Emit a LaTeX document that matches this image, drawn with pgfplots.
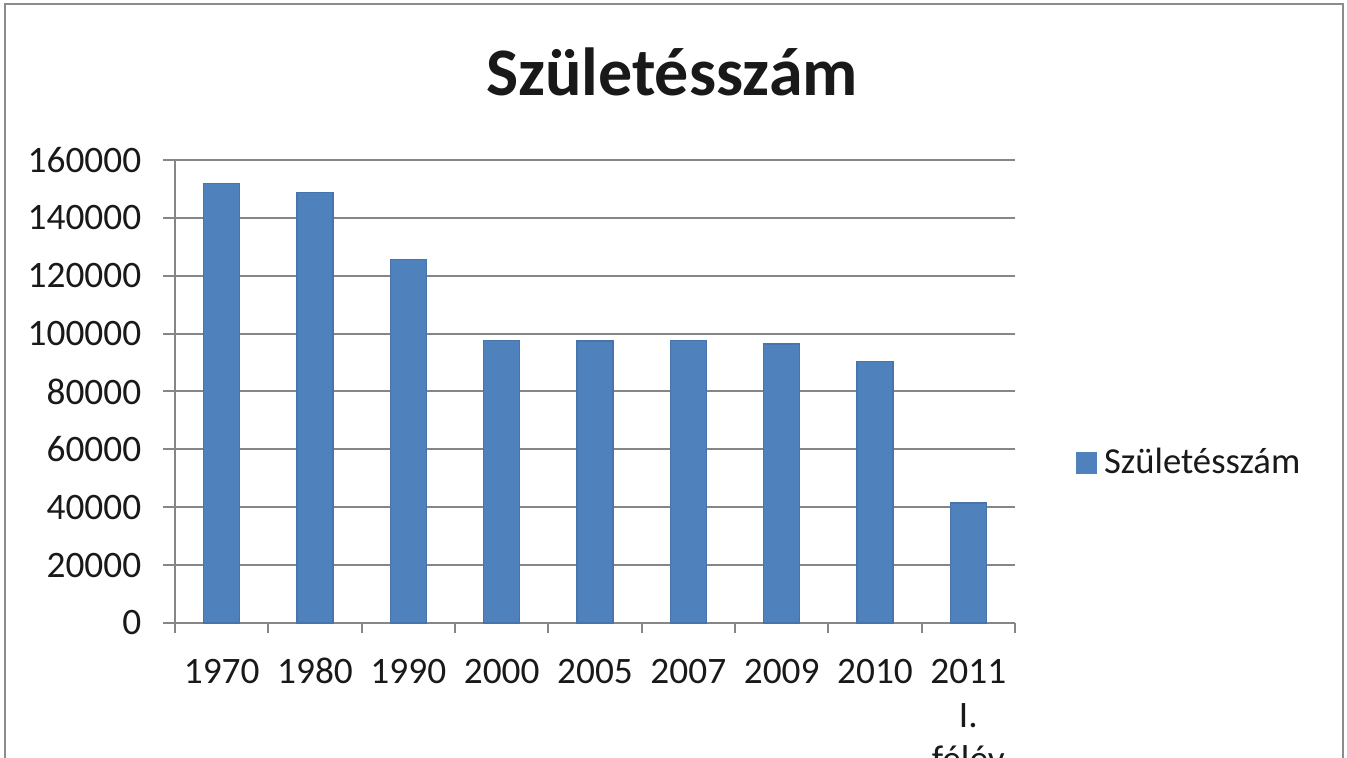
\documentclass[border=0pt]{standalone}
\usepackage{fontspec}
\setmainfont{Carlito}
\usepackage{pgfplots}
\pgfplotsset{compat=1.18}
\definecolor{barblue}{RGB}{79,129,189}
\definecolor{gridgray}{RGB}{134,134,134}
\definecolor{framegray}{RGB}{140,140,140}
\definecolor{txt}{RGB}{25,25,25}

\begin{document}
\begin{tikzpicture}[x=0.3pt,y=0.3pt]
% picture in pixel units, y upward (758 px tall)
\clip (0,0) rectangle (1347,758);
\fill[white] (0,0) rectangle (1347,758);
\draw[framegray, line width=0.6pt] (4.5,-50) -- (4.5,753.5) -- (1342.5,753.5) -- (1342.5,-50);
\node[txt, font=\bfseries\fontsize{20.4}{24}\selectfont] at (672,686) {Születésszám};
\begin{axis}[
  at={(52.5pt,40.5pt)}, anchor=south west,
  scale only axis, width=252pt, height=138.9pt,
  xmin=-0.5, xmax=8.5, ymin=0, ymax=160000,
  enlargelimits=false,
  axis x line*=bottom, axis y line*=left,
  axis line style={gridgray, line width=0.6pt, -},
  xtick={0,...,8},
  xticklabels={\strut1970,\strut1980,\strut1990,\strut2000,\strut2005,\strut2007,
    \strut2009,\strut2010,{\strut2011\\I.\\félév}},
  major x tick style={draw=none},
  minor xtick={-0.5,0.5,...,8.5},
  minor tick length=3pt,
  major tick length=3.6pt,
  tick align=outside,
  tick style={gridgray, line width=0.6pt},
  ytick={0,20000,...,160000},
  ymajorgrids, grid style={gridgray, line width=0.6pt},
  scaled y ticks=false,
  /pgf/number format/.cd, fixed, 1000 sep={}, assume math mode=true,
  /pgfplots/.cd,
  xticklabel style={txt, align=center, yshift=-1.8pt, font=\fontsize{11.2}{13.2}\selectfont},
  yticklabel style={txt, xshift=-3pt, font=\fontsize{11.2}{13.2}\selectfont},
  legend style={at={(1.06,0.3456)}, anchor=west, draw=none, fill=none,
    font=\fontsize{11}{13.2}\selectfont, text=txt},
  legend cell align=left,
]
\addplot[ybar, bar width=10.8pt, fill=barblue, draw=barblue!90!black,
  legend image code/.code={\fill[barblue] (0pt,-3pt) rectangle (6pt,3pt);}]
  coordinates {
  (0,151819) (1,148673) (2,125679) (3,97597) (4,97496)
  (5,97613) (6,96442) (7,90335) (8,41500)
};
\addlegendentry{Születésszám}
\end{axis}
\end{tikzpicture}
\end{document}
